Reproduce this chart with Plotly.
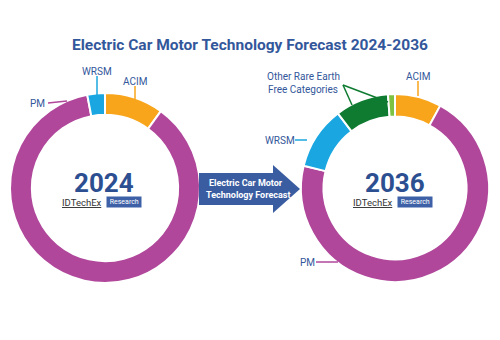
import plotly.graph_objects as go

# ---- data ----
categories_2024 = ["ACIM", "PM", "WRSM"]
values_2024 = [10, 87, 3]
categories_2036 = ["ACIM", "PM", "WRSM", "Other Rare Earth Free (A)", "Other Rare Earth Free (B)"]
values_2036 = [8, 70.8, 10.8, 9.2, 1.2]
colors_2024 = ["#F9A51B", "#B0479B", "#1AA7E1"]
colors_2036 = ["#F9A51B", "#B0479B", "#1AA7E1", "#0E7B31", "#7DC243"]

W, H = 500, 340
BLUE = "#33579B"

def px(x):
    return x / W

def py(y):
    return 1 - y / H

fig = go.Figure()
fig.add_trace(go.Pie(
    labels=categories_2024, values=values_2024, sort=False, direction="clockwise",
    rotation=0, hole=0.77, textinfo="none", hoverinfo="label+percent",
    marker=dict(colors=colors_2024, line=dict(color="white", width=2)),
    domain=dict(x=[px(10), px(200)], y=[py(283), py(93)]), showlegend=False,
))
fig.add_trace(go.Pie(
    labels=categories_2036, values=values_2036, sort=False, direction="clockwise",
    rotation=0, hole=0.76, textinfo="none", hoverinfo="label+percent",
    marker=dict(colors=colors_2036, line=dict(color="white", width=2)),
    domain=dict(x=[px(301), px(489)], y=[py(282), py(94)]), showlegend=False,
))

shapes = []
annotations = []

def line(x0, y0, x1, y1, color):
    shapes.append(dict(type="line", xref="paper", yref="paper",
                       x0=px(x0), y0=py(y0), x1=px(x1), y1=py(y1),
                       line=dict(color=color, width=1.5)))

def text(x, y, s, size=10, color=BLUE, bold=False, xanchor="center", bg=None):
    annotations.append(dict(x=px(x), y=py(y), xref="paper", yref="paper", text=s,
                            showarrow=False, xanchor=xanchor, yanchor="middle",
                            font=dict(family="Roboto", size=size, color=color,
                                      weight="bold" if bold else "normal"),
                            bgcolor=bg, borderpad=1))

# title
text(250, 45, "Electric Car Motor Technology Forecast 2024-2036", size=15.5, color=BLUE, bold=True)

# left labels
text(37, 103, "PM", size=10)
line(48, 103, 67, 101, colors_2024[1])
text(97, 71, "WRSM", size=10)
line(97, 76, 97, 95, colors_2024[2])
text(135, 81, "ACIM", size=10)
line(135, 86, 135, 100, colors_2024[0])

# right labels
text(303, 77, "Other Rare Earth", size=10)
text(303, 90, "Free Categories", size=10)
line(343, 85, 352, 105, colors_2036[3])
line(343, 85, 388, 102, colors_2036[3])
text(418, 76, "ACIM", size=10)
line(418, 81, 418, 96, colors_2036[0])
text(280, 140, "WRSM", size=10)
line(295, 140, 307, 140, colors_2036[2])
text(307, 262, "PM", size=10)
line(316, 262, 338, 262, colors_2036[1])

# centers
def badge(cx, year):
    text(cx, 183, year, size=26, color="#2C4F91", bold=True)
    text(cx, 202, "<u>IDTechEx</u>", size=9.5, color="#333333", xanchor="right")
    text(cx + 2, 202, " Research ", size=7, color="white", bg="#3D60A6", xanchor="left")

badge(104, "2024")
badge(395, "2036")

# arrow
pts = [(199, 173), (273, 173), (273, 165), (300, 189), (273, 213), (273, 205), (199, 205)]
path = "M " + " L ".join(f"{px(x)},{py(y)}" for x, y in pts) + " Z"
shapes.append(dict(type="path", xref="paper", yref="paper", path=path,
                   fillcolor="#3A5DA2", line=dict(width=0)))
text(246, 183, "Electric Car Motor", size=9, color="white", bold=True)
text(248, 195, "Technology Forecast", size=9, color="white", bold=True)

fig.update_layout(width=W, height=H, margin=dict(l=0, r=0, t=0, b=0),
                  paper_bgcolor="white", plot_bgcolor="white",
                  shapes=shapes, annotations=annotations)
fig.write_html("out.html")
